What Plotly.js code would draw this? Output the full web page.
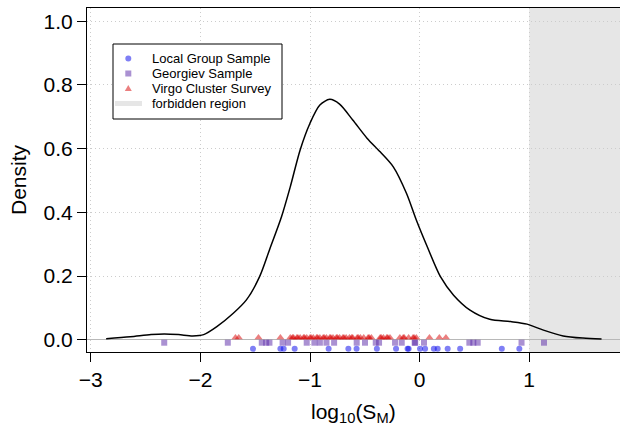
<!DOCTYPE html>
<html>
<head>
<meta charset="utf-8">
<script src="https://cdn.plot.ly/plotly-3.0.1.min.js"></script>
<style>
  html, body { margin: 0; padding: 0; overflow: hidden; background: #fff; }
  #chart { width: 622px; height: 431px; }
</style>
</head>
<body>
<div id="chart"></div>
<script>
// Kernel density estimate of log10(S_M)
const densityX = [-2.86, -2.64, -2.45, -2.33, -2.20, -2.07, -1.97, -1.85, -1.70, -1.58, -1.46, -1.37, -1.26, -1.18, -1.09, -1.00, -0.91, -0.82, -0.73, -0.61, -0.48, -0.36, -0.24, -0.12, -0.03, 0.07, 0.19, 0.31, 0.46, 0.64, 0.83, 0.98, 1.13, 1.31, 1.49, 1.66];
const densityY = [0.003, 0.009, 0.016, 0.018, 0.016, 0.012, 0.016, 0.041, 0.083, 0.125, 0.198, 0.282, 0.386, 0.480, 0.596, 0.680, 0.737, 0.755, 0.740, 0.690, 0.633, 0.590, 0.543, 0.460, 0.376, 0.292, 0.198, 0.140, 0.093, 0.064, 0.057, 0.049, 0.030, 0.012, 0.005, 0.002];

// Rug samples
const localGroup = [-1.52, -1.27, -1.24, -1.14, -0.83, -0.65, -0.575, -0.39, -0.215, -0.11, -0.10, 0.004, 0.05, 0.13, 0.165, 0.256, 0.37, 0.75, 0.91];
const georgiev = [-2.33, -1.75, -1.44, -1.40, -1.37, -1.25, -1.20, -1.03, -0.96, -0.91, -0.85, -0.78, -0.574, -0.498, -0.40, -0.37, -0.224, -0.163, -0.045, -0.04, 0.04, 0.454, 0.49, 0.53, 0.93, 1.135];
const virgo = [-1.68, -1.65, -1.47, -1.27, -1.18, -1.16, -1.15, -1.12, -1.11, -1.09, -1.06, -1.05, -1.03, -1.00, -0.99, -0.97, -0.94, -0.93, -0.91, -0.88, -0.87, -0.85, -0.82, -0.81, -0.79, -0.76, -0.75, -0.73, -0.70, -0.69, -0.67, -0.64, -0.62, -0.61, -0.57, -0.56, -0.54, -0.51, -0.47, -0.46, -0.44, -0.36, -0.35, -0.33, -0.30, -0.29, -0.27, -0.18, -0.15, -0.14, -0.10, -0.06, -0.05, -0.03, 0.09, 0.18, 0.24];

// Rug offsets (y levels of each sample row)
const rugLevels = { virgo: 0.007, georgiev: -0.0094, localGroup: -0.0286 };

const seriesNames = ["Local Group Sample", "Georgiev Sample", "Virgo Cluster Survey", "forbidden region"];
const forbiddenStart = 1;

const xTicks = [-3, -2, -1, 0, 1];
const yTicks = [0, 0.2, 0.4, 0.6, 0.8, 1.0];
const yTickText = ["0.0", "0.2", "0.4", "0.6", "0.8", "1.0"];

const FONT = "Liberation Sans, Arial, Helvetica, sans-serif";
const COLORS = {
  local: "rgba(10,10,235,0.52)",
  georgiev: "rgba(85,35,165,0.5)",
  virgo: "rgba(215,0,0,0.5)",
  forbidden: "#e6e6e6"
};

// geometry helpers (pixel -> paper) for the hand-built legend
const W = 622, H = 431, ML = 87, MR = 0, MT = 8, MB = 79;
const PW = W - ML - MR, PH = H - MT - MB;
const px = v => (v - ML) / PW;
const py = v => (H - MB - v) / PH;

const traces = [
  {
    x: densityX, y: densityY, type: "scatter", mode: "lines",
    line: { color: "#000000", width: 1.5, shape: "spline", smoothing: 0.8 },
    showlegend: false, hoverinfo: "skip"
  },
  {
    name: seriesNames[0], x: localGroup, y: localGroup.map(() => rugLevels.localGroup),
    type: "scatter", mode: "markers", showlegend: false,
    marker: { symbol: "circle", size: 6, color: COLORS.local, line: { width: 0 } }
  },
  {
    name: seriesNames[1], x: georgiev, y: georgiev.map(() => rugLevels.georgiev),
    type: "scatter", mode: "markers", showlegend: false,
    marker: { symbol: "square", size: 6, color: COLORS.georgiev, line: { width: 0 } }
  },
  {
    name: seriesNames[2], x: virgo, y: virgo.map(() => rugLevels.virgo),
    type: "scatter", mode: "markers", showlegend: false,
    marker: { symbol: "triangle-up", size: 7, color: COLORS.virgo, line: { width: 0 } }
  }
];

// Legend (drawn by hand to match the compact R legend)
const legBox = { x0: 113, x1: 282, y0: 44, y1: 119 };
const rowY = [58.5, 73.5, 88.5, 103.5];
const symX = 128.3, textX = 150;

const legendShapes = [
  { type: "rect", xref: "paper", yref: "paper",
    x0: px(legBox.x0), x1: px(legBox.x1), y0: py(legBox.y1), y1: py(legBox.y0),
    fillcolor: "#ffffff", line: { color: "#000000", width: 1 }, layer: "above" },
  { type: "circle", xref: "paper", yref: "paper", xsizemode: "pixel", ysizemode: "pixel",
    xanchor: px(symX), yanchor: py(rowY[0]), x0: -3, x1: 3, y0: -3, y1: 3,
    fillcolor: COLORS.local, line: { width: 0 }, layer: "above" },
  { type: "rect", xref: "paper", yref: "paper", xsizemode: "pixel", ysizemode: "pixel",
    xanchor: px(symX), yanchor: py(rowY[1]), x0: -3, x1: 3, y0: -3, y1: 3,
    fillcolor: COLORS.georgiev, line: { width: 0 }, layer: "above" },
  { type: "path", xref: "paper", yref: "paper", xsizemode: "pixel", ysizemode: "pixel",
    xanchor: px(symX), yanchor: py(rowY[2]), path: "M-3.5,-2.5L3.5,-2.5L0,3.5Z",
    fillcolor: COLORS.virgo, line: { width: 0 }, layer: "above" },
  { type: "line", xref: "paper", yref: "paper",
    x0: px(115), x1: px(142), y0: py(rowY[3]), y1: py(rowY[3]),
    line: { color: COLORS.forbidden, width: 5 }, layer: "above" }
];

const legendTexts = seriesNames.map((name, i) => ({
  text: name, xref: "paper", yref: "paper", x: px(textX), y: py(rowY[i]),
  xanchor: "left", yanchor: "middle", showarrow: false,
  font: { family: FONT, size: 13, color: "#000000" }
}));

const layout = {
  width: W, height: H,
  margin: { l: ML, r: MR, t: MT, b: MB, pad: 0 },
  paper_bgcolor: "#ffffff", plot_bgcolor: "#ffffff",
  font: { family: FONT, color: "#000000", size: 21 },
  showlegend: false,
  xaxis: {
    range: [-3.0347, 1.8467], tickmode: "array", tickvals: xTicks,
    ticks: "outside", ticklen: 9, tickcolor: "#000000", tickwidth: 1,
    showline: true, linecolor: "#000000", linewidth: 1, mirror: true,
    showgrid: true, gridcolor: "#cccccc", griddash: "1px,3px", gridwidth: 1,
    zeroline: false, tickfont: { size: 21, family: FONT, color: "#000000" },
    fixedrange: true
  },
  yaxis: {
    range: [-0.0386, 1.0418], tickmode: "array", tickvals: yTicks, ticktext: yTickText,
    ticks: "outside", ticklen: 9, tickcolor: "#000000", tickwidth: 1,
    showline: true, linecolor: "#000000", linewidth: 1, mirror: true,
    showgrid: true, gridcolor: "#cccccc", griddash: "1px,3px", gridwidth: 1,
    zeroline: true, zerolinecolor: "#b8b8b8", zerolinewidth: 1,
    tickfont: { size: 21, family: FONT, color: "#000000" },
    fixedrange: true
  },
  shapes: [
    { type: "rect", xref: "x", yref: "paper", x0: forbiddenStart, x1: 3, y0: 0, y1: 1,
      fillcolor: COLORS.forbidden, line: { width: 0 }, layer: "below" }
  ].concat(legendShapes),
  annotations: [
    {
      text: "log<sub>10</sub>(S<sub>M</sub>)", xref: "paper", yref: "paper",
      x: (353.4 - ML) / PW, y: 0, yshift: -61, xanchor: "center", yanchor: "middle",
      showarrow: false, font: { family: FONT, size: 21, color: "#000000" }
    },
    {
      text: "Density", xref: "paper", yref: "paper", textangle: -90,
      x: 0, xshift: -69, y: 0.5, xanchor: "center", yanchor: "middle",
      showarrow: false, font: { family: FONT, size: 21, color: "#000000" }
    }
  ].concat(legendTexts)
};

Plotly.newPlot("chart", traces, layout, { displayModeBar: false, staticPlot: true });
</script>
</body>
</html>
